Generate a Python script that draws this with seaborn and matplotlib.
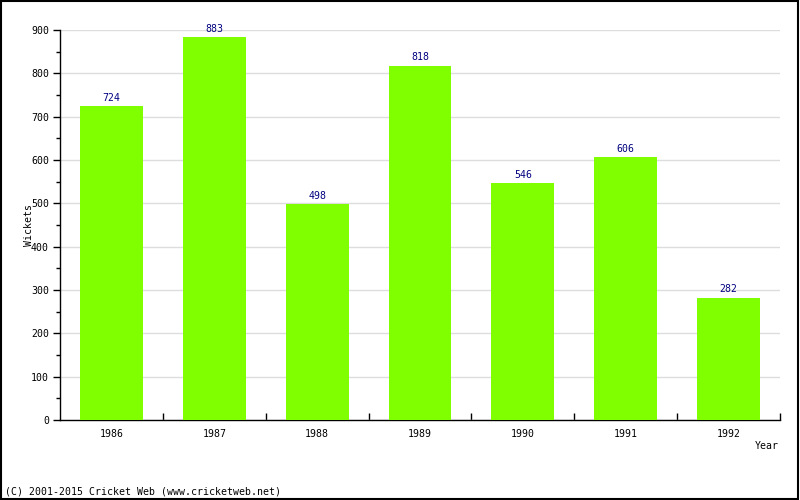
import matplotlib
matplotlib.use("Agg")
import matplotlib.pyplot as plt
from matplotlib.ticker import MultipleLocator
from matplotlib.patches import Rectangle
import seaborn as sns
import pandas as pd

years = ["1986", "1987", "1988", "1989", "1990", "1991", "1992"]
wickets = [724, 883, 498, 818, 546, 606, 282]

sns.set_style("white")
plt.rcParams['font.family'] = ['DejaVu Sans Mono', 'DejaVu Sans']
FS = 7.1

df = pd.DataFrame({"Year": years, "Wickets": wickets})

fig = plt.figure(figsize=(8, 5), dpi=100)
ax = fig.add_axes([0.075, 0.16, 0.9, 0.78])

sns.barplot(data=df, x="Year", y="Wickets", color="#80FF00", saturation=1,
            width=0.61, ax=ax, edgecolor="none", zorder=3)

ax.set_ylim(0, 900)
ax.set_xlim(-0.5, len(years) - 0.5)
ax.yaxis.set_major_locator(MultipleLocator(100))
ax.yaxis.set_minor_locator(MultipleLocator(50))
ax.grid(axis="y", which="major", color="#DDDDDD", linewidth=1, zorder=0)
ax.set_axisbelow(True)

for s in ["top", "right"]:
    ax.spines[s].set_visible(False)
for s in ["left", "bottom"]:
    ax.spines[s].set_color("black")
    ax.spines[s].set_linewidth(1)

ax.tick_params(axis="y", which="major", direction="out", length=5, width=1,
               color="black", labelsize=FS, labelcolor="black", pad=3, left=True)
ax.tick_params(axis="y", which="minor", direction="out", length=3, width=1,
               color="black", left=True)
ax.tick_params(axis="x", which="major", bottom=False, labelsize=FS,
               labelcolor="black", pad=3)

# category boundary ticks on x axis (inward)
ax.set_xticks([i + 0.5 for i in range(len(years))], minor=True)
ax.tick_params(axis="x", which="minor", direction="in", length=5, width=1,
               color="black", bottom=True)

for i, v in enumerate(wickets):
    ax.text(i, v + 8, str(v), ha="center", va="bottom", fontsize=FS,
            color="#000080")

ax.set_xlabel("")
ax.set_ylabel("")
fig.text(29 / 800, 1 - 225 / 500, "Wickets", rotation=90, ha="center",
         va="center", fontsize=FS, color="black")
fig.text(779 / 800, 1 - 446 / 500, "Year", ha="right", va="center",
         fontsize=FS, color="black")
fig.text(5 / 800, 1 - 492 / 500, "(C) 2001-2015 Cricket Web (www.cricketweb.net)",
         ha="left", va="center", fontsize=FS, color="black")

fig.patches.append(Rectangle((0.001, 0.002), 0.997, 0.996, transform=fig.transFigure,
                             fill=False, edgecolor="black", linewidth=1.5))

fig.savefig("out.png", dpi=100)
